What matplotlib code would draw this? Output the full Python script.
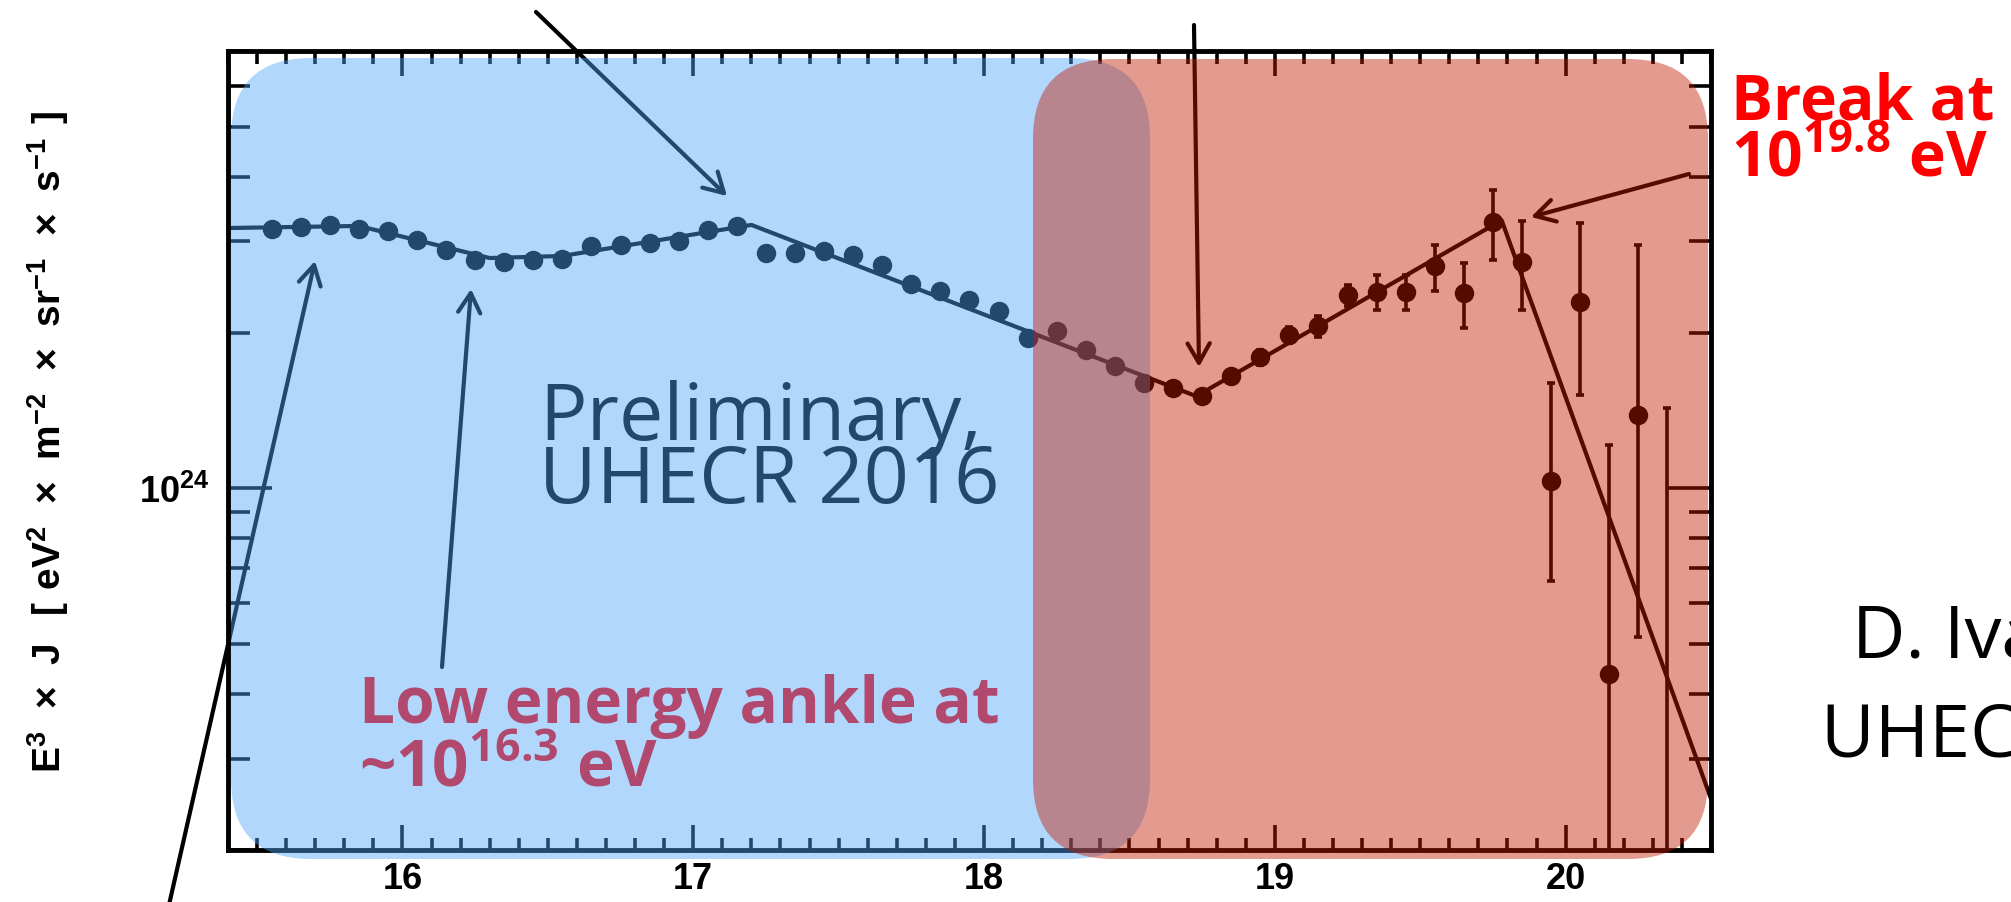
import numpy as np
import matplotlib
matplotlib.use("Agg")
import matplotlib.pyplot as plt
from matplotlib.patches import FancyBboxPatch
from matplotlib.ticker import MultipleLocator, LogLocator, NullFormatter, FuncFormatter

plt.rcParams["font.family"] = ["Liberation Sans", "DejaVu Sans"]
plt.rcParams["font.weight"] = "bold"
plt.rcParams["mathtext.fontset"] = "custom"
plt.rcParams["mathtext.rm"] = "Liberation Sans"
plt.rcParams["mathtext.bf"] = "Liberation Sans:bold"
plt.rcParams["mathtext.sf"] = "Open Sans:bold"

# spectrum bins: log10(E/eV) and log10(E^3 J)
log_e = [15.55, 15.65, 15.75, 15.85, 15.95, 16.05, 16.15, 16.25, 16.35, 16.45,
         16.55, 16.65, 16.75, 16.85, 16.95, 17.05, 17.15, 17.25, 17.35, 17.45,
         17.55, 17.65, 17.75, 17.85, 17.95, 18.05, 18.15, 18.25, 18.35, 18.45,
         18.55, 18.65, 18.75, 18.85, 18.95, 19.05, 19.15, 19.25, 19.35, 19.45,
         19.55, 19.65, 19.75, 19.85, 19.95, 20.05, 20.15, 20.25, 20.35]
log_flux = [24.501, 24.505, 24.509, 24.501, 24.497, 24.480, 24.460, 24.441, 24.437, 24.441,
            24.443, 24.468, 24.470, 24.474, 24.477, 24.499, 24.507, 24.455, 24.455, 24.458,
            24.451, 24.431, 24.395, 24.381, 24.364, 24.342, 24.290, 24.304, 24.267, 24.236,
            24.203, 24.193, 24.178, 24.217, 24.253, 24.296, 24.313, 24.373, 24.379, 24.379,
            24.429, 24.377, 24.515, 24.437, 24.014, 24.360, 23.642, 24.141, 23.200]
# errors in decades
err_up = [0.0, 0.0, 0.0, 0.0, 0.0, 0.0, 0.0, 0.0, 0.0, 0.0,
          0.0, 0.0, 0.0, 0.0, 0.0, 0.0, 0.0, 0.0, 0.0, 0.0,
          0.0, 0.0, 0.0, 0.0, 0.0, 0.0, 0.0, 0.0, 0.0, 0.0,
          0.0, 0.0, 0.0, 0.012, 0.014, 0.016, 0.020, 0.020, 0.033, 0.033,
          0.041, 0.058, 0.061, 0.079, 0.189, 0.153, 0.441, 0.329, 0.955]
err_dn = [0.0, 0.0, 0.0, 0.0, 0.0, 0.0, 0.0, 0.0, 0.0, 0.0,
          0.0, 0.0, 0.0, 0.0, 0.0, 0.0, 0.0, 0.0, 0.0, 0.0,
          0.0, 0.0, 0.0, 0.0, 0.0, 0.0, 0.0, 0.0, 0.0, 0.0,
          0.0, 0.0, 0.0, 0.012, 0.014, 0.016, 0.020, 0.021, 0.035, 0.035,
          0.048, 0.068, 0.074, 0.093, 0.194, 0.180, 0.900, 0.429, 0.500]

# broken power law fit
fit_log_e = [15.4, 15.85, 16.3, 16.55, 17.2, 18.73, 19.78, 20.5]
fit_log_flux = [24.503, 24.507, 24.445, 24.449, 24.509, 24.178, 24.518, 23.40]

W, H = 2011, 903
fig = plt.figure(figsize=(W / 100, H / 100), dpi=100)
ax = fig.add_axes([228 / W, 1 - 851 / H, (1711 - 228) / W, (851 - 52) / H])

lf = np.array(log_flux)
y = 10 ** lf
ylo = y - 10 ** (lf - np.array(err_dn))
yhi = 10 ** (lf + np.array(err_up)) - y

ax.plot(fit_log_e, 10 ** np.array(fit_log_flux), color="k", lw=3, zorder=2)
ax.errorbar(log_e, y, yerr=[ylo, yhi], fmt="o", color="k", ms=13,
            elinewidth=2.6, capsize=3.2, capthick=2.6, zorder=3)

ax.set_xlim(15.4, 20.5)
ax.set_yscale("log")
ax.set_ylim(2e23, 7e24)

ax.xaxis.set_major_locator(MultipleLocator(1))
ax.xaxis.set_minor_locator(MultipleLocator(0.1))
ax.yaxis.set_major_locator(LogLocator(base=10))
ax.yaxis.set_minor_locator(LogLocator(base=10, subs=np.arange(2, 10)))
ax.yaxis.set_minor_formatter(NullFormatter())
ax.yaxis.set_major_formatter(FuncFormatter(lambda v, p: r"$\mathbf{10^{%d}}$" % round(np.log10(v))))

for s in ax.spines.values():
    s.set_linewidth(3.5)
ax.tick_params(which="both", direction="in", top=True, right=True, width=2.6, color="k")
ax.tick_params(axis="x", which="major", length=18, pad=8, labelsize=26)
ax.tick_params(axis="x", which="minor", length=9)
ax.tick_params(axis="y", which="major", length=32, pad=13, labelsize=26)
ax.tick_params(axis="y", which="minor", length=16)

fig.text(48 / W, 1 - 442 / H,
         r"$\mathbf{E^{3}}\ \times\ \mathbf{J}\ \ \mathbf{[}\ \mathbf{eV^{2}}\ \times\ "
         r"\mathbf{m^{-2}}\ \times\ \mathbf{sr^{-1}}\ \times\ \mathbf{s^{-1}}\ \mathbf{]}$",
         rotation=90, ha="center", va="center", fontsize=28)

# annotation layer in pixel units
ov = fig.add_axes([0, 0, 1, 1], zorder=10)
ov.set_xlim(0, W)
ov.set_ylim(H, 0)
ov.axis("off")

ov.add_patch(FancyBboxPatch((231, 59), 1150 - 231, 860 - 59,
                            boxstyle="round,pad=0,rounding_size=80",
                            fc=(0.31, 0.65, 0.98), ec="none", alpha=0.44, zorder=3))
ov.add_patch(FancyBboxPatch((1033, 60), 1708 - 1033, 860 - 60,
                            boxstyle="round,pad=0,rounding_size=80",
                            fc=(0.76, 0.107, 0.0), ec="none", alpha=0.44, zorder=4))


def arrow(tail, head):
    ov.annotate("", xy=head, xytext=tail, zorder=2,
                arrowprops=dict(arrowstyle="->,head_length=14,head_width=8", lw=3,
                                color="k", shrinkA=0, shrinkB=0, mutation_scale=1))


arrow((536, 13), (727, 197))
arrow((1194, 26), (1199, 368))
arrow((1689, 175), (1531, 218))
arrow((442, 668), (471, 290))
arrow((159, 950), (315, 262))

# multi-line blocks are anchored at the baseline of their last line
myriad = dict(family=["Open Sans", "DejaVu Sans"], ha="left", va="baseline")
ov.text(539, 503, "Preliminary,\nUHECR 2016", fontsize=57, color="k",
        fontweight="normal", linespacing=0.74, zorder=2, **myriad)

ov.text(359, 787, "Low energy ankle at\n~10$^{\\mathsf{16.3}}$ eV", fontsize=46,
        color="red", fontweight="bold", linespacing=0.97, zorder=2, **myriad)

ov.text(1731, 176, "Break at\n10$^{\\mathsf{19.8}}$ eV", fontsize=45,
        color="red", fontweight="bold", linespacing=0.86, zorder=6, **myriad)

ov.text(1852, 658, "D. Ivanov", fontsize=53, color="k", fontweight="normal", zorder=6, **myriad)
ov.text(1821, 757, "UHECR 2016", fontsize=53, color="k", fontweight="normal", zorder=6, **myriad)

fig.savefig("out.png", dpi=100)
